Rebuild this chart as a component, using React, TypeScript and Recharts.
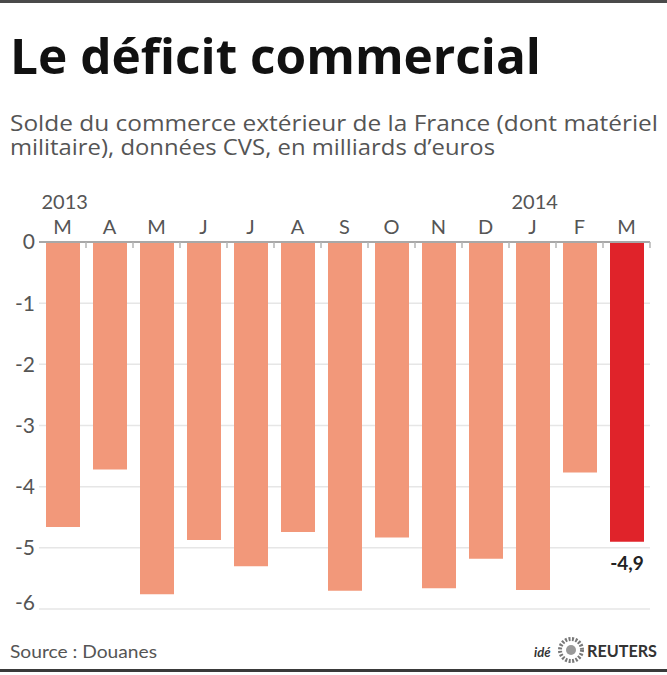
import { BarChart, Bar, Cell, XAxis, YAxis, CartesianGrid, LabelList } from "recharts";

const months = ["M", "A", "M", "J", "J", "A", "S", "O", "N", "D", "J", "F", "M"];
const years = ["2013", "", "", "", "", "", "", "", "", "", "2014", "", ""];
const balance = [-4.66, -3.72, -5.76, -4.87, -5.3, -4.74, -5.7, -4.83, -5.66, -5.18, -5.69, -3.77, -4.9];
const valueLabels = ["", "", "", "", "", "", "", "", "", "", "", "", "-4,9"];
const yTicks = [0, -1, -2, -3, -4, -5, -6];

const FONT = "Lato, 'Open Sans', sans-serif";
const HEAD_FONT = "'Open Sans', Lato, sans-serif";
const BAR = "#f2987a";
const BAR_LAST = "#e0232a";
const TEXT = "#555";

const data = months.map((m, i) => ({
  month: m,
  year: years[i],
  value: balance[i],
  label: valueLabels[i],
}));

const PLOT_W = 611;

function MonthTick(props: any) {
  const { x, y, payload, index } = props;
  const half = payload?.offset || PLOT_W / months.length / 2;
  const yr = years[index];
  return (
    <g>
      {yr && (
        <text x={x - 21} y={y - 33} fontSize={20} fill={TEXT} fontFamily={FONT}>
          {yr}
        </text>
      )}
      <text x={x} y={y - 8} textAnchor="middle" fontSize={20} fill={TEXT} fontFamily={FONT}>
        {payload.value}
      </text>
      <line x1={x + half} x2={x + half} y1={y} y2={y + 6} stroke="#b5b5b5" strokeWidth={1.5} />
    </g>
  );
}

function ValueLabel(props: any) {
  const { x, y, width, height, value } = props;
  if (!value) return null;
  const bottom = Math.max(y, y + height);
  return (
    <text x={x + width / 2} y={bottom + 28} textAnchor="middle" fontSize={19} fontWeight={700} fill="#222" fontFamily={FONT}>
      {value}
    </text>
  );
}

export default function App() {
  return (
    <div style={{ position: "relative", width: 667, height: 675, background: "#fff", overflow: "hidden", fontFamily: FONT }}>
      <style>{"body{margin:0}"}</style>
      <svg width={667} height={675} style={{ position: "absolute", left: 0, top: 0 }}>
        <rect x={0} y={0} width={667} height={3} fill="#4a4a4a" />
        <text x={10} y={74} fontSize={49} fontWeight={700} fill="#111" fontFamily={HEAD_FONT} textLength={531} lengthAdjust="spacingAndGlyphs">
          Le déficit commercial
        </text>
        <text x={10} y={131} fontSize={21} fill={TEXT} fontFamily={HEAD_FONT} textLength={648} lengthAdjust="spacingAndGlyphs">
          Solde du commerce extérieur de la France (dont matériel
        </text>
        <text x={10} y={155} fontSize={21} fill={TEXT} fontFamily={HEAD_FONT} textLength={485} lengthAdjust="spacingAndGlyphs">
          militaire), données CVS, en milliards d’euros
        </text>
        <text x={10} y={658} fontSize={18} fill={TEXT} fontFamily={FONT} textLength={147} lengthAdjust="spacingAndGlyphs">
          Source : Douanes
        </text>
        <text x={534} y={657} fontSize={13} fontWeight={700} fontStyle="italic" fill="#333" fontFamily={FONT}>
          idé
        </text>
        <circle cx={571} cy={650} r={11} fill="none" stroke="#777" strokeWidth={4} strokeDasharray="2 1.5" />
        <circle cx={571} cy={650} r={5} fill="#999" />
        <text x={587} y={657} fontSize={17} fontWeight={700} fill="#333" fontFamily={FONT} textLength={70} lengthAdjust="spacingAndGlyphs">
          REUTERS
        </text>
        <rect x={0} y={669} width={667} height={3} fill="#3a3a3a" />
      </svg>
      <div style={{ position: "absolute", left: 0, top: 180 }}>
        <BarChart width={667} height={435} data={data} margin={{ top: 0, right: 17, bottom: 6, left: 0 }}>
          <CartesianGrid horizontal vertical={false} stroke="#e6e6e6" strokeWidth={1.5} />
          <XAxis
            dataKey="month"
            orientation="top"
            height={62}
            tickSize={0}
            tickMargin={0}
            tickLine={false}
            axisLine={{ stroke: "#a8a8a8", strokeWidth: 2 }}
            tick={<MonthTick />}
            interval={0}
          />
          <YAxis
            width={39}
            domain={[-6, 0]}
            ticks={yTicks}
            axisLine={false}
            tickLine={false}
            tickSize={0}
            tickMargin={4}
            tick={{ fontSize: 21, fill: TEXT, fontFamily: FONT }}
          />
          <Bar dataKey="value" barSize={34} isAnimationActive={false}>
            {data.map((d, i) => (
              <Cell key={`c-${i}`} fill={i === data.length - 1 ? BAR_LAST : BAR} />
            ))}
            <LabelList dataKey="label" content={<ValueLabel />} />
          </Bar>
        </BarChart>
      </div>
    </div>
  );
}
